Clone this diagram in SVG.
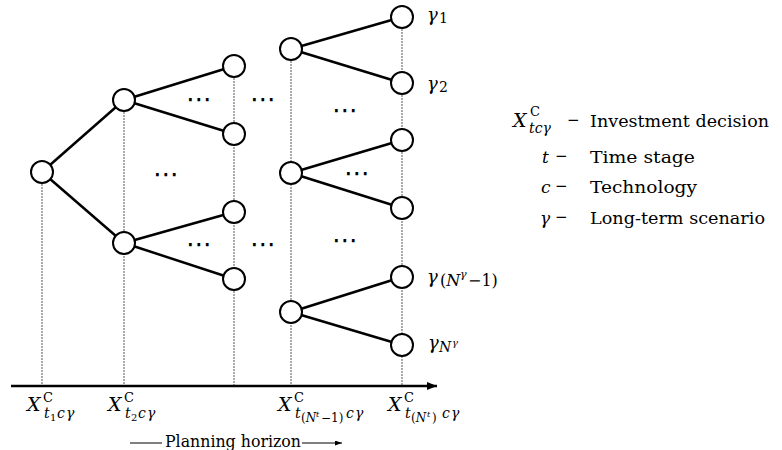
<svg xmlns="http://www.w3.org/2000/svg" width="782" height="450" viewBox="0 0 782 450" font-family="'DejaVu Serif','Liberation Serif',serif">
<style>
.node circle{fill:#fff;stroke:#000;stroke-width:2}
.edge{stroke:#000;stroke-width:2.5;fill:none}
.guide{stroke:#555;stroke-width:1;stroke-dasharray:2 1;fill:none}
.t{font-family:"DejaVu Serif","Liberation Serif",serif;fill:#000}
.i{font-style:italic}
.dots{font-family:"DejaVu Sans",sans-serif;font-size:26px;text-anchor:middle;fill:#000}
</style>
<defs>
<marker id="ah" markerWidth="10" markerHeight="8" refX="10" refY="4" orient="auto" markerUnits="userSpaceOnUse">
<path d="M0,0 L10,4 L0,8 Z" fill="#000"/>
</marker>
<marker id="ah2" markerWidth="7" markerHeight="5" refX="7" refY="2.5" orient="auto" markerUnits="userSpaceOnUse">
<path d="M0,0 L7,2.5 L0,5 Z" fill="#000"/>
</marker>
</defs>
<rect width="782" height="450" fill="#fff"/>
<g id="guides">
<line class="guide" x1="42" y1="172" x2="42" y2="386"/>
<line class="guide" x1="124" y1="100" x2="124" y2="386"/>
<line class="guide" x1="234" y1="66" x2="234" y2="386"/>
<line class="guide" x1="291" y1="49" x2="291" y2="386"/>
<line class="guide" x1="402" y1="17" x2="402" y2="386"/>
</g>
<g id="connectors">
<line class="edge" x1="42" y1="172" x2="124" y2="100"/>
<line class="edge" x1="42" y1="172" x2="124" y2="243"/>
<line class="edge" x1="124" y1="100" x2="234" y2="66"/>
<line class="edge" x1="124" y1="100" x2="234" y2="134"/>
<line class="edge" x1="124" y1="243" x2="234" y2="212"/>
<line class="edge" x1="124" y1="243" x2="234" y2="279"/>
<line class="edge" x1="291" y1="49" x2="402" y2="17"/>
<line class="edge" x1="291" y1="49" x2="402" y2="83"/>
<line class="edge" x1="291" y1="173" x2="402" y2="140"/>
<line class="edge" x1="291" y1="173" x2="402" y2="208"/>
<line class="edge" x1="291" y1="312" x2="402" y2="277"/>
<line class="edge" x1="291" y1="312" x2="402" y2="345"/>
</g>
<g id="n1" class="node"><circle cx="42" cy="172" r="11"/></g>
<g id="n2a" class="node"><circle cx="124" cy="100" r="11"/></g>
<g id="n2b" class="node"><circle cx="124" cy="243" r="11"/></g>
<g id="n3a" class="node"><circle cx="234" cy="66" r="11"/></g>
<g id="n3b" class="node"><circle cx="234" cy="134" r="11"/></g>
<g id="n3c" class="node"><circle cx="234" cy="212" r="11"/></g>
<g id="n3d" class="node"><circle cx="234" cy="279" r="11"/></g>
<g id="n4a" class="node"><circle cx="291" cy="49" r="11"/></g>
<g id="n4b" class="node"><circle cx="291" cy="173" r="11"/></g>
<g id="n4c" class="node"><circle cx="291" cy="312" r="11"/></g>
<g id="n5a" class="node"><circle cx="402" cy="17" r="11"/></g>
<g id="n5b" class="node"><circle cx="402" cy="83" r="11"/></g>
<g id="n5c" class="node"><circle cx="402" cy="140" r="11"/></g>
<g id="n5d" class="node"><circle cx="402" cy="208" r="11"/></g>
<g id="n5e" class="node"><circle cx="402" cy="277" r="11"/></g>
<g id="n5f" class="node"><circle cx="402" cy="345" r="11"/></g>
<g id="ellipses">
<text class="dots" x="199" y="108">⋯</text>
<text class="dots" x="263" y="108">⋯</text>
<text class="dots" x="166" y="183">⋯</text>
<text class="dots" x="199" y="253">⋯</text>
<text class="dots" x="263" y="253">⋯</text>
<text class="dots" x="345" y="119">⋯</text>
<text class="dots" x="357" y="182">⋯</text>
<text class="dots" x="345" y="249">⋯</text>
</g>
<g id="scenario-labels">
<text class="t i" x="427" y="21" font-size="18">γ</text><text class="t" x="439" y="23" font-size="14">1</text>
<text class="t i" x="427" y="90" font-size="18">γ</text><text class="t" x="439" y="92" font-size="14">2</text>
<text class="t i" x="427" y="283" font-size="18">γ</text><text class="t" x="440" y="286" font-size="16">(<tspan class="i">N</tspan></text><text class="t i" x="460" y="278" font-size="11">γ</text><text class="t" x="468" y="286" font-size="16">−1)</text>
<text class="t i" x="428" y="349" font-size="18">γ</text><text class="t i" x="439" y="352" font-size="14">N</text><text class="t i" x="452" y="346" font-size="10">γ</text>
</g>
<g id="axis">
<line x1="11" y1="386" x2="437" y2="386" stroke="#000" stroke-width="2.5" marker-end="url(#ah)"/>
</g>
<g id="axis-labels">
<text class="t i" x="27" y="411" font-size="19">X</text><text class="t" x="43" y="402" font-size="13">C</text>
<text class="t i" x="44" y="418" font-size="14">t</text><text class="t" x="50" y="421" font-size="10">1</text><text class="t i" x="57" y="418" font-size="14">c</text><text class="t i" x="66" y="418" font-size="14">γ</text>

<text class="t i" x="108" y="411" font-size="19">X</text><text class="t" x="124" y="402" font-size="13">C</text>
<text class="t i" x="125" y="418" font-size="14">t</text><text class="t" x="131" y="421" font-size="10">2</text><text class="t i" x="138" y="418" font-size="14">c</text><text class="t i" x="147" y="418" font-size="14">γ</text>

<text class="t i" x="278" y="411" font-size="19">X</text><text class="t" x="294" y="402" font-size="13">C</text>
<text class="t i" x="295" y="418" font-size="14">t</text><text class="t" x="301" y="422" font-size="12">(<tspan class="i">N</tspan></text><text class="t i" x="316" y="417" font-size="8">t</text><text class="t" x="321" y="422" font-size="12">−1)</text><text class="t i" x="346" y="418" font-size="14">c</text><text class="t i" x="355" y="418" font-size="14">γ</text>

<text class="t i" x="388" y="411" font-size="19">X</text><text class="t" x="404" y="402" font-size="13">C</text>
<text class="t i" x="405" y="418" font-size="14">t</text><text class="t" x="411" y="422" font-size="12">(<tspan class="i">N</tspan></text><text class="t i" x="427" y="417" font-size="8">t</text><text class="t" x="432" y="422" font-size="12">)</text><text class="t i" x="442" y="418" font-size="14">c</text><text class="t i" x="451" y="418" font-size="14">γ</text>
</g>
<g id="planning-horizon">
<line x1="130" y1="443" x2="162" y2="443" stroke="#000" stroke-width="1"/>
<text class="t" x="165" y="447" font-size="16" textLength="136" lengthAdjust="spacingAndGlyphs">Planning horizon</text>
<line x1="302" y1="443" x2="342" y2="443" stroke="#000" stroke-width="1" marker-end="url(#ah2)"/>
</g>
<g id="legend">
<text class="t i" x="513" y="127" font-size="19">X</text><text class="t" x="530" y="116" font-size="13">C</text><text class="t i" x="529" y="133" font-size="14">tcγ</text>
<text class="t" x="567" y="125" font-size="15">−</text>
<text class="t" x="590" y="127" font-size="17" textLength="179" lengthAdjust="spacingAndGlyphs">Investment decision</text>
<text class="t i" x="542" y="163" font-size="17">t</text>
<text class="t" x="555" y="161" font-size="15">−</text>
<text class="t" x="590" y="163" font-size="17" textLength="105" lengthAdjust="spacingAndGlyphs">Time stage</text>
<text class="t i" x="541" y="193" font-size="17">c</text>
<text class="t" x="555" y="191" font-size="15">−</text>
<text class="t" x="590" y="193" font-size="17" textLength="107" lengthAdjust="spacingAndGlyphs">Technology</text>
<text class="t i" x="540" y="224" font-size="17">γ</text>
<text class="t" x="555" y="222" font-size="15">−</text>
<text class="t" x="590" y="224" font-size="17" textLength="175" lengthAdjust="spacingAndGlyphs">Long-term scenario</text>
</g>
</svg>
